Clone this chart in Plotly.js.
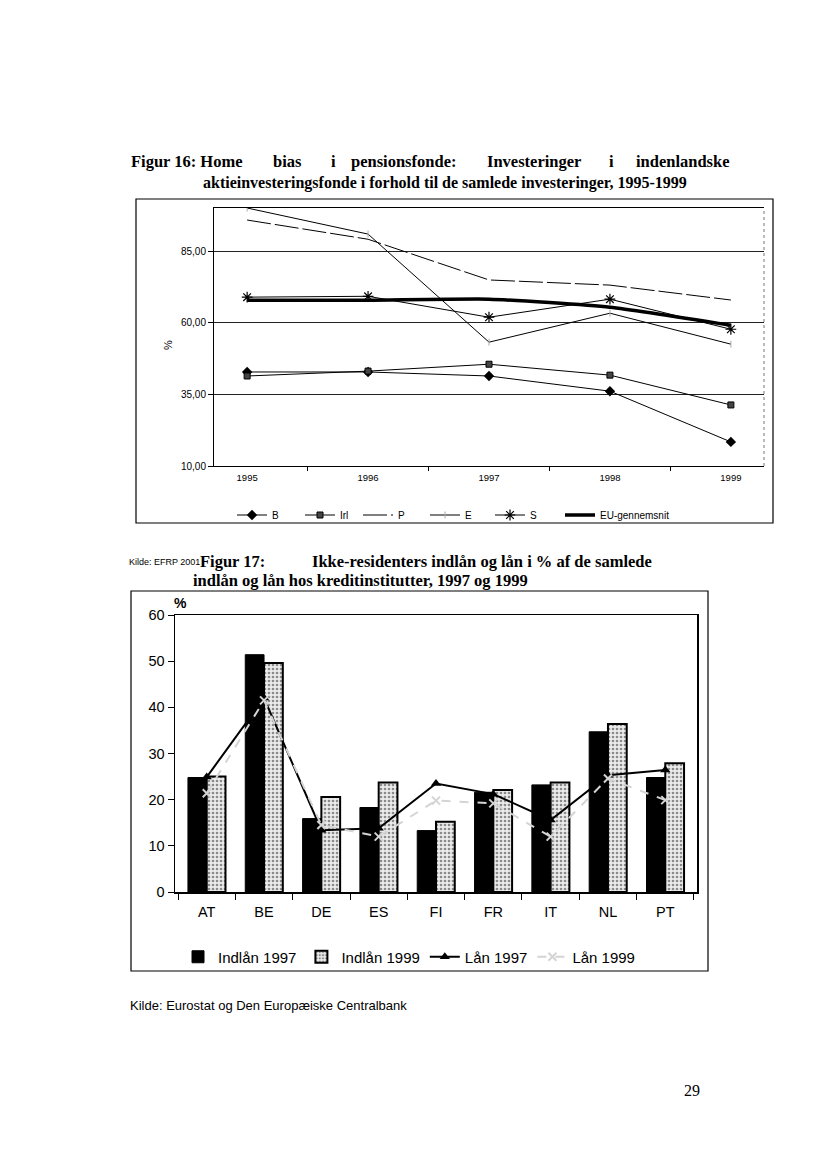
<!DOCTYPE html>
<html>
<head>
<meta charset="utf-8">
<script src="https://cdn.plot.ly/plotly-3.0.1.min.js"></script>
<style>
  html, body { margin: 0; padding: 0; background: #ffffff; }
  #chart { width: 827px; height: 1163px; }
</style>
</head>
<body>
<div id="chart"></div>
<script>
// ---------- Figur 16 data ----------
const years = ['1995', '1996', '1997', '1998', '1999'];
const seriesB = [42.8, 42.8, 41.4, 36.1, 18.4];
const seriesIrl = [41.4, 43.1, 45.5, 41.7, 31.3];
const seriesP = [95.8, 89.1, 74.9, 73.1, 67.9];
const seriesE = [100.0, 90.9, 53.2, 63.3, 52.5];
const seriesS = [68.9, 69.2, 61.9, 68.2, 57.7];
const seriesEU = [67.8, 67.8, 68.2, 65.4, 59.1];
const topTickVals = [10, 35, 60, 85];
const topTickText = ['10,00', '35,00', '60,00', '85,00'];

// ---------- Figur 17 data ----------
const countries = ['AT', 'BE', 'DE', 'ES', 'FI', 'FR', 'IT', 'NL', 'PT'];
const indlan1997 = [24.8, 51.4, 15.9, 18.3, 13.3, 21.6, 23.2, 34.7, 24.8];
const indlan1999 = [25.0, 49.6, 20.6, 23.7, 15.2, 22.1, 23.7, 36.4, 27.9];
const lan1997 = [24.9, 42.0, 13.4, 13.8, 23.5, 21.2, 15.6, 25.3, 26.4];
const lan1999 = [21.4, 41.5, 14.5, 12.0, 19.8, 19.2, 12.0, 24.6, 19.9];

const W = 827, H = 1163;
const px = x => x / W;
const py = y => 1 - y / H;
const SERIF = 'Liberation Serif, Times New Roman, serif';
const SANS = 'Liberation Sans, Arial, sans-serif';

const traces = [
  { x: years, y: seriesB, name: 'B', type: 'scatter', mode: 'lines+markers',
    xaxis: 'x', yaxis: 'y', legend: 'legend', legendwidth: 23,
    line: { color: '#000', width: 1 }, marker: { symbol: 'diamond', size: 8, color: '#000' } },
  { x: years, y: seriesIrl, name: 'Irl', type: 'scatter', mode: 'lines+markers',
    xaxis: 'x', yaxis: 'y', legend: 'legend', legendwidth: 13,
    line: { color: '#000', width: 1 }, marker: { symbol: 'square', size: 6, color: '#444', line: { color: '#000', width: 1 } } },
  { x: years, y: seriesP, name: 'P', type: 'scatter', mode: 'lines',
    xaxis: 'x', yaxis: 'y', legend: 'legend', legendwidth: 22,
    line: { color: '#000', width: 1, dash: '24px,4px' } },
  { x: years, y: seriesE, name: 'E', type: 'scatter', mode: 'lines+markers',
    xaxis: 'x', yaxis: 'y', legend: 'legend', legendwidth: 20,
    line: { color: '#000', width: 1 }, marker: { symbol: 'line-ns', size: 5, color: '#aaa', line: { color: '#aaa', width: 1 } } },
  { x: years, y: seriesS, name: 'S', type: 'scatter', mode: 'lines+markers',
    xaxis: 'x', yaxis: 'y', legend: 'legend', legendwidth: 25,
    line: { color: '#000', width: 1 }, marker: { symbol: 'asterisk-open', size: 9, line: { color: '#000', width: 1.2 } } },
  { x: years, y: seriesEU, name: 'EU-gennemsnit', type: 'scatter', mode: 'lines',
    xaxis: 'x', yaxis: 'y', legend: 'legend',
    line: { color: '#000', width: 3.5, shape: 'spline', smoothing: 0.5 } },

  { x: countries, y: indlan1997, name: 'Indlån 1997', type: 'bar',
    xaxis: 'x2', yaxis: 'y2', legend: 'legend2',
    marker: { color: '#000', line: { color: '#000', width: 1 } } },
  { x: countries, y: indlan1999, name: 'Indlån 1999', type: 'bar',
    xaxis: 'x2', yaxis: 'y2', legend: 'legend2',
    marker: { color: '#e4e4e4', line: { color: '#000', width: 2 },
      pattern: { shape: '.', fgcolor: '#8a8a8a', bgcolor: '#ececec', size: 4, solidity: 0.35 } } },
  { x: countries, y: lan1997, name: 'Lån 1997', type: 'scatter', mode: 'lines+markers',
    xaxis: 'x2', yaxis: 'y2', legend: 'legend2',
    line: { color: '#000', width: 2 }, marker: { symbol: 'triangle-up', size: 9, color: '#000' } },
  { x: countries, y: lan1999, name: 'Lån 1999', type: 'scatter', mode: 'lines+markers',
    xaxis: 'x2', yaxis: 'y2', legend: 'legend2',
    line: { color: '#d4d4d4', width: 2, dash: 'dash' },
    marker: { symbol: 'x-thin-open', size: 8, line: { color: '#f2f2f2', width: 2 } } }
];

const annotations = [];
function txt(text, x, y, size, family, opts) {
  annotations.push(Object.assign({
    text: text, xref: 'paper', yref: 'paper', x: px(x), y: py(y),
    xanchor: 'left', yanchor: 'middle', showarrow: false,
    font: { size: size, family: family, color: '#000' }
  }, opts || {}));
}
// Figur 16 heading (justified words)
txt('<b>Figur 16: Home</b>', 129, 162, 16.5, SERIF);
txt('<b>bias</b>', 271, 162, 16.5, SERIF);
txt('<b>i</b>', 329, 162, 16.5, SERIF);
txt('<b>pensionsfonde:</b>', 349, 162, 16.5, SERIF);
txt('<b>Investeringer</b>', 485, 162, 16.5, SERIF);
txt('<b>i</b>', 607, 162, 16.5, SERIF);
txt('<b>indenlandske</b>', 634, 162, 16.5, SERIF);
txt('<b>aktieinvesteringsfonde i forhold til de samlede investeringer, 1995-1999</b>', 201, 183, 16, SERIF);
// y axis title of Figur 16
txt('%', 168, 345, 11, SANS, { xanchor: 'center', textangle: -90 });
// Figur 17 heading
txt('Kilde: EFRP 2001', 127, 562, 9, SANS);
txt('<b>Figur 17:</b>', 198, 561, 16.5, SERIF);
txt('<b>Ikke-residenters indlån og lån i % af de samlede</b>', 310, 561, 16.5, SERIF);
txt('<b>indlån og lån hos kreditinstitutter, 1997 og 1999</b>', 191, 580, 16.5, SERIF);
// % label of Figur 17
txt('<b>%</b>', 172, 603, 14, SANS);
// Source and page number
txt('Kilde: Eurostat og Den Europæiske Centralbank', 128, 1005, 13, SANS);
txt('29', 682, 1090, 16, SERIF);

const shapes = [
  // Figur 16 chart frame
  { type: 'rect', xref: 'paper', yref: 'paper', x0: px(136), x1: px(773), y0: py(523), y1: py(199),
    line: { color: '#000', width: 1.2 } },
  // dotted right edge of Figur 16 plot area
  { type: 'line', xref: 'paper', yref: 'paper', x0: px(764), x1: px(764), y0: py(466), y1: py(208),
    line: { color: '#777', width: 1, dash: 'dot' } },
  // Figur 17 chart frame
  { type: 'rect', xref: 'paper', yref: 'paper', x0: px(131), x1: px(708), y0: py(971), y1: py(591),
    line: { color: '#000', width: 1.2 } }
];

const layout = {
  width: W, height: H,
  margin: { l: 0, r: 0, t: 0, b: 0 },
  paper_bgcolor: '#ffffff', plot_bgcolor: 'rgba(0,0,0,0)',
  separators: ',.',
  barmode: 'group', bargap: 0.345, bargroupgap: 0,
  xaxis: {
    domain: [px(214), px(764)], anchor: 'y', type: 'category',
    showline: true, linecolor: '#000', linewidth: 1, mirror: true,
    showgrid: false, zeroline: false,
    ticks: 'outside', tickson: 'boundaries', ticklen: 4, tickcolor: '#000',
    tickfont: { size: 9.5, family: SANS, color: '#000' }, ticklabelstandoff: 3
  },
  yaxis: {
    domain: [py(466), py(208)], anchor: 'x', range: [10, 100],
    tickvals: topTickVals, ticktext: topTickText,
    showline: true, linecolor: '#000', linewidth: 1,
    showgrid: true, gridcolor: '#222', gridwidth: 1, zeroline: false,
    ticks: 'outside', ticklen: 5, tickcolor: '#000',
    tickfont: { size: 10, family: SANS, color: '#000' }
  },
  xaxis2: {
    domain: [px(175), px(697)], anchor: 'y2', type: 'category',
    showline: true, linecolor: '#000', linewidth: 1.5, mirror: true,
    showgrid: false, zeroline: false,
    ticks: 'outside', tickson: 'boundaries', ticklen: 6, tickcolor: '#000',
    tickfont: { size: 14.5, family: SANS, color: '#000' }, ticklabelstandoff: 6
  },
  yaxis2: {
    domain: [py(892), py(615)], anchor: 'x2', range: [0, 60], dtick: 10,
    showline: true, linecolor: '#000', linewidth: 1.5, mirror: true,
    showgrid: false, zeroline: false,
    ticks: 'outside', ticklen: 6, tickcolor: '#000',
    tickfont: { size: 14.5, family: SANS, color: '#000' }
  },
  legend: {
    orientation: 'h', x: px(232), y: py(515), xanchor: 'left', yanchor: 'middle',
    font: { size: 10, family: SANS, color: '#000' }, bgcolor: 'rgba(0,0,0,0)',
    itemwidth: 30, tracegroupgap: 0
  },
  legend2: {
    orientation: 'h', x: px(178), y: py(957), xanchor: 'left', yanchor: 'middle',
    font: { size: 15, family: SANS, color: '#000' }, bgcolor: 'rgba(0,0,0,0)',
    itemwidth: 30
  },
  annotations: annotations,
  shapes: shapes,
  showlegend: true
};

Plotly.newPlot('chart', traces, layout, { staticPlot: true, displayModeBar: false });
</script>
</body>
</html>
